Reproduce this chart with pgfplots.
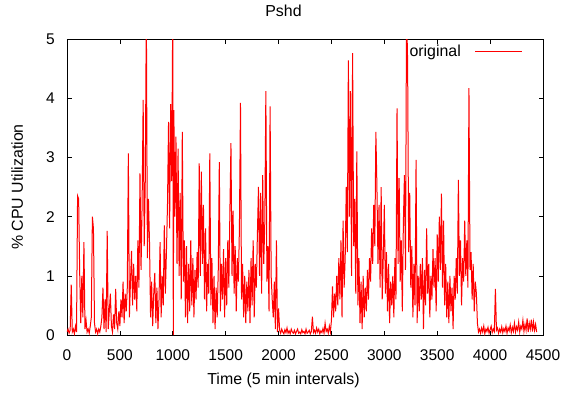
\documentclass[border=0pt]{standalone}
\usepackage{pgfplots}
\pgfplotsset{compat=1.18}
\usepackage{fontspec}
\setmainfont{Liberation Sans}
\begin{document}
\begin{tikzpicture}
\begin{axis}[
  scale only axis,
  width=476pt, height=296pt,
  xmin=0, xmax=4500, ymin=0, ymax=5,
  xtick={0,500,...,4500}, ytick={0,1,2,3,4,5},
  /pgf/number format/assume math mode=true,
  /pgf/number format/1000 sep={},
  tick align=inside,
  major tick length=4.5pt,
  tick style={black, line width=0.6pt},
  axis line style={black, line width=0.8pt},
  every tick label/.append style={font=\fontsize{15.5}{18}\selectfont},
  xticklabel style={anchor=base, yshift=-25pt, inner sep=0pt},
  yticklabel style={anchor=east, xshift=-12pt, inner sep=0pt},
  title={Pshd},
  title style={at={(axis description cs:0.4548,1)}, anchor=base, yshift=17pt, font=\fontsize{15.9}{18}\selectfont},
  xlabel={Time (5 min intervals)},
  xlabel style={at={(axis description cs:0.4548,0)}, anchor=base, yshift=-49pt, font=\fontsize{15.9}{18}\selectfont},
  ylabel={\% CPU Utilization},
  ylabel style={at={(axis description cs:-0.0925,0.5)}, anchor=base, rotate=0, font=\fontsize{15.9}{18}\selectfont},
  legend plot pos=right,
  legend cell align=right,
  legend image code/.code={\draw[#1] (0pt,0pt) -- (47pt,0pt);},
  legend style={at={(axis description cs:1,1)}, anchor=north east, xshift=-20pt, yshift=-4pt, draw=none, fill=none, inner sep=0pt, column sep=12pt, font=\fontsize{15.9}{18}\selectfont},
]
\addplot[red, line width=1pt] coordinates {
(0,0.05)(10,0.1)(20,0.03)(30,0.08)(40,0.85)(50,0.05)(60,0.1)(70,0.02)(80,0.15)(90,0.05)
(100,2.35)(110,2.3)(120,1.05)(130,0.2)(140,1.0)(150,0.3)(160,1.57)(170,0.1)(180,0.25)(190,0.05)
(200,0.1)(210,0.03)(220,0.15)(230,0.3)(240,2.0)(250,1.8)(260,0.2)(270,0.05)(280,0.1)(290,0.02)
(300,0.1)(310,0.05)(320,0.15)(330,0.3)(340,0.8)(350,0.1)(360,0.6)(370,0.05)(380,1.76)(390,0.1)
(400,0.4)(410,0.7)(420,0.15)(430,0.05)(440,0.35)(450,0.1)(460,0.78)(470,0.2)(480,0.1)(490,0.4)
(500,0.15)(510,0.6)(520,0.3)(530,0.9)(540,0.2)(550,0.7)(560,0.4)(570,0.8)(580,3.07)(590,0.3)
(600,0.9)(610,1.42)(620,0.5)(630,1.2)(640,0.6)(650,1.0)(660,0.4)(670,1.6)(680,0.8)(690,2.73)
(700,1.1)(710,2.2)(720,3.97)(730,1.5)(740,2.6)(750,5.5)(760,1.3)(770,2.3)(780,1.57)(790,0.3)
(800,0.9)(810,0.15)(820,0.7)(830,1.05)(840,0.2)(850,0.8)(860,0.1)(870,0.6)(880,1.57)(890,0.3)
(900,1.0)(910,0.5)(920,1.85)(930,0.7)(940,1.4)(950,2.2)(960,3.6)(970,1.8)(980,3.9)(990,2.6)
(1000,5.6)(1005,0.0)(1010,3.8)(1020,2.0)(1030,3.35)(1040,1.2)(1050,3.15)(1060,1.0)(1070,2.4)(1080,0.6)(1090,3.43)
(1100,0.9)(1110,1.6)(1120,0.3)(1130,1.5)(1140,0.2)(1150,1.2)(1160,0.4)(1170,1.6)(1180,0.5)(1190,1.3)
(1200,0.3)(1210,1.1)(1220,0.6)(1230,1.4)(1240,0.8)(1250,2.9)(1260,1.0)(1270,2.76)(1280,1.2)(1290,2.2)
(1300,0.6)(1310,1.8)(1320,0.4)(1330,1.2)(1340,0.7)(1350,3.07)(1360,0.5)(1370,1.3)(1380,0.2)(1390,1.0)
(1400,0.1)(1410,0.8)(1420,0.3)(1430,1.1)(1440,2.92)(1450,0.4)(1460,1.2)(1470,0.6)(1480,1.45)(1490,0.3)
(1500,1.3)(1510,0.5)(1520,1.6)(1530,0.8)(1540,2.1)(1550,3.24)(1560,1.0)(1570,2.1)(1580,0.7)(1590,1.5)
(1600,0.4)(1610,1.3)(1620,0.9)(1630,1.8)(1640,3.92)(1650,0.6)(1660,1.2)(1670,0.3)(1680,1.0)(1690,0.2)
(1700,0.9)(1710,0.4)(1720,1.1)(1730,0.2)(1740,1.3)(1750,0.5)(1760,1.6)(1770,0.3)(1780,1.2)(1790,0.8)
(1800,1.7)(1810,2.5)(1820,1.0)(1830,2.4)(1840,0.7)(1850,2.7)(1860,1.2)(1870,1.9)(1880,4.12)(1890,0.9)
(1900,1.5)(1910,0.4)(1920,3.86)(1930,1.0)(1940,0.6)(1950,0.3)(1960,0.9)(1970,0.1)(1980,1.6)(1990,0.05)
(2000,0.45)(2010,0.08)(2020,0.03)(2030,0.1)(2040,0.05)(2050,0.02)(2060,0.09)(2070,0.04)(2080,0.12)(2090,0.03)
(2100,0.07)(2110,0.02)(2120,0.1)(2130,0.05)(2140,0.03)(2150,0.08)(2160,0.02)(2170,0.06)(2180,0.1)(2190,0.03)
(2200,0.05)(2210,0.02)(2220,0.09)(2230,0.04)(2240,0.06)(2250,0.02)(2260,0.1)(2270,0.03)(2280,0.05)(2290,0.08)
(2300,0.02)(2310,0.06)(2320,0.31)(2330,0.04)(2340,0.08)(2350,0.03)(2360,0.12)(2370,0.05)(2380,0.1)(2390,0.02)
(2400,0.07)(2410,0.04)(2420,0.11)(2430,0.03)(2440,0.2)(2450,0.06)(2460,0.1)(2470,0.03)(2480,0.15)(2490,0.05)
(2500,0.25)(2510,0.82)(2520,0.3)(2530,0.7)(2540,0.4)(2550,1.0)(2560,0.5)(2570,1.3)(2580,0.6)(2590,1.6)
(2600,0.3)(2610,1.93)(2620,0.8)(2630,1.3)(2640,2.5)(2650,1.4)(2660,4.64)(2670,2.0)(2680,4.12)(2690,1.0)
(2700,4.76)(2710,1.5)(2720,2.3)(2730,0.7)(2740,3.1)(2750,0.5)(2760,1.3)(2770,0.2)(2780,0.9)(2790,0.1)
(2800,1.0)(2810,0.3)(2820,0.8)(2830,0.4)(2840,1.1)(2850,0.6)(2860,1.3)(2870,0.9)(2880,1.8)(2890,1.2)
(2900,2.2)(2910,1.5)(2920,3.43)(2930,2.5)(2940,1.2)(2950,2.2)(2960,0.8)(2970,2.5)(2980,0.6)(2990,1.3)
(3000,2.2)(3010,0.7)(3020,1.4)(3030,0.4)(3040,1.2)(3050,0.2)(3060,0.9)(3070,0.5)(3080,1.0)(3090,0.3)
(3100,1.3)(3110,0.6)(3120,3.83)(3130,1.2)(3140,2.65)(3150,0.9)(3160,1.6)(3170,0.4)(3180,1.9)(3190,2.7)
(3200,1.1)(3210,5.5)(3220,4.64)(3230,1.4)(3240,2.4)(3250,0.8)(3260,1.5)(3270,0.3)(3280,1.2)(3290,0.5)
(3300,2.96)(3310,0.2)(3320,1.0)(3330,0.4)(3340,1.2)(3350,0.6)(3360,1.3)(3370,0.1)(3380,1.1)(3390,0.5)
(3400,1.8)(3410,0.7)(3420,1.2)(3430,0.3)(3440,1.0)(3450,0.6)(3460,1.45)(3470,0.8)(3480,1.3)(3490,0.4)
(3500,1.7)(3510,0.9)(3520,2.0)(3530,1.1)(3540,2.39)(3550,0.8)(3560,1.93)(3570,0.5)(3580,1.2)(3590,0.3)
(3600,0.9)(3610,0.2)(3620,1.0)(3630,0.4)(3640,0.8)(3650,0.1)(3660,1.0)(3670,0.6)(3680,1.3)(3690,0.7)
(3700,2.62)(3710,1.0)(3720,1.6)(3730,0.5)(3740,1.3)(3750,0.9)(3760,1.93)(3770,1.0)(3780,1.6)(3790,0.8)
(3800,4.17)(3810,1.1)(3820,1.4)(3830,0.6)(3840,1.2)(3850,0.4)(3860,0.9)(3870,0.71)(3880,0.2)(3890,0.05)
(3900,0.1)(3910,0.03)(3920,0.12)(3930,0.05)(3940,0.15)(3950,0.02)(3960,0.1)(3970,0.06)(3980,0.13)(3990,0.03)
(4000,0.09)(4010,0.15)(4020,0.04)(4030,0.1)(4040,0.06)(4050,0.78)(4060,0.08)(4070,0.12)(4080,0.03)(4090,0.1)
(4100,0.05)(4110,0.14)(4120,0.04)(4130,0.11)(4140,0.06)(4150,0.15)(4160,0.03)(4170,0.12)(4180,0.07)(4190,0.17)
(4200,0.04)(4210,0.13)(4220,0.06)(4230,0.2)(4240,0.05)(4250,0.14)(4260,0.08)(4270,0.22)(4280,0.05)(4290,0.15)
(4300,0.1)(4310,0.25)(4320,0.06)(4330,0.18)(4340,0.08)(4350,0.28)(4360,0.05)(4370,0.2)(4380,0.1)(4390,0.26)
(4400,0.06)(4410,0.22)(4420,0.08)(4430,0.18)(4440,0.05)
};
\addlegendentry{original}
\end{axis}
\pgfresetboundingbox
\path (-67pt,-57pt) rectangle (500pt,335pt);
\end{tikzpicture}
\end{document}
